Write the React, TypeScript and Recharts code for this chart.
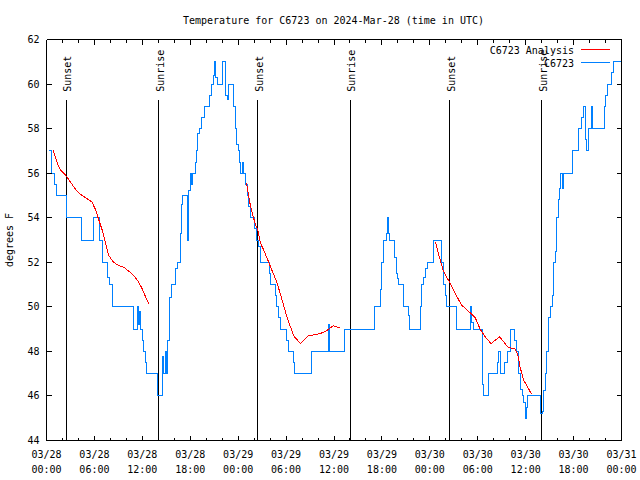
import { LineChart, Line, XAxis, YAxis, ReferenceLine, ReferenceDot } from 'recharts'

const TITLE = 'Temperature for C6723 on 2024-Mar-28 (time in UTC)'
const Y_LABEL = 'degrees F'
const SERIES_NAMES = ['C6723 Analysis', 'C6723']
const SERIES_COLORS = ['#ff0000', '#0080ff']
const MONO = "'DejaVu Sans Mono', 'Liberation Mono', monospace"

// hours since 03/28 00:00 UTC
const START_DAY = 28
const HOUR_TICKS = [0, 2, 4, 6, 8, 10, 12, 14, 16, 18, 20, 22, 24, 26, 28, 30, 32, 34, 36,
  38, 40, 42, 44, 46, 48, 50, 52, 54, 56, 58, 60, 62, 64, 66, 68, 70, 72]
const TEMP_TICKS = [44, 46, 48, 50, 52, 54, 56, 58, 60, 62]

const SUN_HOURS = [2.47, 14.05, 26.48, 38.05, 50.5, 62.0]
const SUN_NAMES = ['Sunset', 'Sunrise', 'Sunset', 'Sunrise', 'Sunset', 'Sunrise']
const SUN_MARK_TOP = 59.3
const SUN_LABEL_AT = 59.65

// observed temperature [hour, degF]
const OBS: [number, number][] = [
  [0.3, 57], [0.65, 56], [1.0, 55.5], [1.2, 55], [2.55, 54], [4.4, 53], [5.85, 54], [6.6, 53],
  [6.95, 52], [7.7, 51.3], [7.9, 51], [8.25, 50], [10.9, 49], [11.45, 50], [11.5, 49.2], [11.65, 49.8],
  [11.75, 49], [12.0, 48.5], [12.2, 48], [12.45, 47.5], [12.55, 47], [13.95, 46], [14.5, 47], [14.55, 47.75],
  [14.7, 47], [14.85, 48], [15.0, 47], [15.2, 48.5], [15.35, 49.5], [15.45, 50.4], [15.6, 51], [16.1, 51.7],
  [16.35, 52], [16.75, 53.3], [16.85, 54.6], [17.05, 55], [17.6, 53], [17.75, 55.2], [18.05, 56], [18.2, 55.5],
  [18.3, 56], [18.6, 56.5], [18.8, 57], [18.95, 57.8], [19.2, 58], [19.45, 58.5], [19.75, 59], [20.45, 59.5],
  [20.65, 60], [20.9, 60.4], [21.05, 61], [21.2, 60.3], [21.4, 60], [22.0, 60.5], [22.1, 61], [22.4, 59.5],
  [22.65, 59.3], [22.85, 60], [23.4, 59], [23.7, 58], [23.85, 57.3], [24.0, 57], [24.15, 56.5], [24.25, 56],
  [24.5, 56.5], [24.65, 56], [24.95, 55.5], [25.15, 55], [25.3, 54.5], [25.5, 54], [26.05, 53.5], [26.25, 53],
  [26.5, 52.7], [26.85, 52], [27.95, 51.5], [28.1, 51], [28.65, 50.5], [28.8, 50], [29.1, 49.5], [29.3, 49],
  [30.1, 48.5], [30.3, 48], [30.9, 47.5], [31.05, 47], [33.15, 48], [35.25, 49.2], [35.45, 48], [37.35, 49],
  [41.1, 50], [41.8, 50.8], [41.95, 51], [42.0, 52], [42.15, 52.8], [42.2, 53], [42.55, 53.3], [42.7, 54],
  [42.85, 53.3], [42.95, 53], [43.6, 52.2], [43.8, 51.5], [43.95, 51.25], [44.1, 51], [44.65, 50.4], [44.7, 50],
  [45.35, 49.6], [45.45, 49], [46.8, 50], [47.0, 51], [47.2, 51.3], [47.45, 51.7], [47.65, 52], [48.4, 53],
  [49.5, 52], [49.7, 51], [49.95, 50.5], [50.05, 50], [51.3, 49], [53.15, 50], [53.25, 49.3], [53.45, 49],
  [54.55, 47.5], [54.65, 46.5], [54.75, 46], [55.35, 47], [56.45, 47.5], [56.6, 48], [56.8, 47], [57.4, 47.5],
  [57.75, 48], [58.15, 49], [58.55, 48.5], [58.8, 48], [59.05, 47.5], [59.1, 47], [59.3, 46.3], [59.55, 46],
  [59.75, 45.7], [59.95, 45], [60.15, 45.5], [60.25, 46], [61.9, 45.2], [62.15, 45.3], [62.25, 46.25], [62.45, 47],
  [62.65, 48], [62.85, 49.5], [63.1, 50], [63.3, 50.5], [63.5, 52], [63.7, 52.5], [63.85, 54], [64.1, 54.8],
  [64.25, 55.3], [64.4, 56], [64.55, 55.3], [64.75, 56], [65.9, 57], [66.6, 58], [67.05, 58.5], [67.25, 59],
  [67.55, 57.5], [67.65, 57], [67.85, 58], [68.2, 59], [68.35, 58], [69.85, 59], [70.05, 59.5], [70.2, 60],
  [70.8, 60.5], [71.0, 61], [72, 61],
]

// analysis runs, one per night [hour, degF]
const ANALYSIS_1: [number, number][] = [
  [0.8, 57.05], [1.35, 56.45], [1.75, 56.15], [2.4, 55.9], [3.0, 55.6], [3.85, 55.17], [4.45, 55.0],
  [5.1, 54.85], [5.7, 54.7], [6.15, 54.35], [6.55, 53.9], [6.97, 53.45], [7.4, 52.85], [7.8, 52.3],
  [8.4, 52.0], [9.05, 51.85], [9.7, 51.77], [10.3, 51.6], [10.95, 51.4], [11.55, 51.1], [12.0, 50.8],
  [12.4, 50.45], [12.8, 50.15],
]
const ANALYSIS_2: [number, number][] = [
  [25.05, 55.55], [25.55, 54.5], [26.15, 53.7], [26.45, 53.45], [26.8, 52.85], [27.2, 52.55], [28.05, 51.8],
  [28.9, 51.05], [29.5, 50.3], [30.1, 49.55], [30.95, 48.7], [31.8, 48.35], [32.8, 48.7], [33.65, 48.75],
  [34.7, 48.85], [35.35, 49.0], [35.9, 49.15], [36.7, 49.05],
]
const ANALYSIS_3: [number, number][] = [
  [48.7, 52.9], [49.3, 52.1], [49.7, 51.6], [50.55, 51.05], [51.4, 50.45], [52.0, 50.07], [52.85, 49.8],
  [53.7, 49.5], [54.3, 49.0], [54.95, 48.65], [55.65, 48.35], [56.75, 48.65], [57.75, 48.2], [58.7, 48.1],
  [59.05, 47.8], [59.3, 47.3], [59.75, 46.7], [60.25, 46.4], [60.7, 46.1],
]

const toRows = (pts: [number, number][]) => pts.map(([t, v]) => ({ t, v }))

function BottomTick({ x, y, payload }: any) {
  const h = payload.value
  const major = h % 6 === 0
  const date = `03/${START_DAY + Math.floor(h / 24)}`
  const time = `${String(h % 24).padStart(2, '0')}:00`
  return (
    <g>
      <line x1={x} y1={y} x2={x} y2={y - (major ? 5 : 3)} stroke="#000" />
      {major && (
        <text x={x} y={y} textAnchor="middle" fontFamily={MONO} fontSize={10} fill="#000">
          <tspan x={x} dy={17}>{date}</tspan>
          <tspan x={x} dy={15}>{time}</tspan>
        </text>
      )}
    </g>
  )
}

function TopTick({ x, y, payload }: any) {
  const major = payload.value % 6 === 0
  return <line x1={x} y1={y} x2={x} y2={y + (major ? 5 : 3)} stroke="#000" />
}

function LeftTick({ x, y, payload }: any) {
  return (
    <g>
      <line x1={x} y1={y} x2={x + 5} y2={y} stroke="#000" />
      <text x={x - 7} y={y + 3.5} textAnchor="end" fontFamily={MONO} fontSize={10} fill="#000">
        {payload.value}
      </text>
    </g>
  )
}

function RightTick({ x, y }: any) {
  return <line x1={x} y1={y} x2={x - 5} y2={y} stroke="#000" />
}

export default function App() {
  return (
    <div style={{ position: 'absolute', left: 0, top: 0, width: 640, height: 480, background: '#fff' }}>
      <style>{`.gp svg line, .gp svg path { shape-rendering: crispEdges; }`}</style>
      <div className="gp">
        <LineChart width={640} height={480} margin={{ top: 0, right: 0, bottom: 0, left: 0 }}>
          <XAxis
            xAxisId={0} dataKey="t" type="number" domain={[0, 72]} allowDataOverflow
            ticks={HOUR_TICKS} interval={0} height={39.5} tickSize={0} tickMargin={0}
            tickLine={false} axisLine={{ stroke: '#000' }} tick={<BottomTick />}
          />
          <XAxis
            xAxisId="top" orientation="top" dataKey="t" type="number" domain={[0, 72]} allowDataOverflow
            ticks={HOUR_TICKS} interval={0} height={39.5} tickSize={0} tickMargin={0}
            tickLine={false} axisLine={{ stroke: '#000' }} tick={<TopTick />}
          />
          <YAxis
            yAxisId={0} type="number" domain={[44, 62]} allowDataOverflow ticks={TEMP_TICKS} interval={0}
            width={46.5} tickSize={0} tickMargin={0} tickLine={false} axisLine={{ stroke: '#000' }}
            tick={<LeftTick />}
          />
          <YAxis
            yAxisId="right" orientation="right" type="number" domain={[44, 62]} allowDataOverflow
            ticks={TEMP_TICKS} interval={0} width={18.5} tickSize={0} tickMargin={0} tickLine={false}
            axisLine={{ stroke: '#000' }} tick={<RightTick />}
          />
          {SUN_HOURS.map((t, i) => (
            <ReferenceLine
              key={`sl${i}`}
              segment={[{ x: t, y: 44 }, { x: t, y: SUN_MARK_TOP }]}
              stroke="#000" strokeWidth={1}
            />
          ))}
          {SUN_HOURS.map((t, i) => (
            <ReferenceDot
              key={`sd${i}`} x={t} y={SUN_LABEL_AT} r={0}
              shape={(p: any) => (
                <text
                  x={p.cx + 5} y={p.cy} transform={`rotate(-90 ${p.cx + 5} ${p.cy})`}
                  fontFamily={MONO} fontSize={10} fill="#000" textAnchor="start"
                >
                  {SUN_NAMES[i]}
                </text>
              )}
            />
          ))}
          <Line data={toRows(OBS)} dataKey="v" type="stepAfter" stroke={SERIES_COLORS[1]} strokeWidth={1}
            dot={false} activeDot={false} isAnimationActive={false} />
          {[ANALYSIS_1, ANALYSIS_2, ANALYSIS_3].map((seg, i) => (
            <Line key={`a${i}`} data={toRows(seg)} dataKey="v" type="linear" stroke={SERIES_COLORS[0]}
              strokeWidth={1} dot={false} activeDot={false} isAnimationActive={false} />
          ))}
        </LineChart>
      </div>
      <svg width={640} height={480} style={{ position: 'absolute', left: 0, top: 0, pointerEvents: 'none' }}>
        <text x={333.5} y={24} textAnchor="middle" fontFamily={MONO} fontSize={10} fill="#000">{TITLE}</text>
        <text x={13} y={240} transform="rotate(-90 13 240)" textAnchor="middle" fontFamily={MONO} fontSize={10} fill="#000">
          {Y_LABEL}
        </text>
        {SERIES_NAMES.map((name, i) => (
          <g key={name}>
            <text x={574} y={53.5 + i * 13} textAnchor="end" fontFamily={MONO} fontSize={10} fill="#000">{name}</text>
            <line x1={581} y1={49.5 + i * 12.5} x2={610} y2={49.5 + i * 12.5} stroke={SERIES_COLORS[i]}
              style={{ shapeRendering: 'crispEdges' }} />
          </g>
        ))}
      </svg>
    </div>
  )
}
